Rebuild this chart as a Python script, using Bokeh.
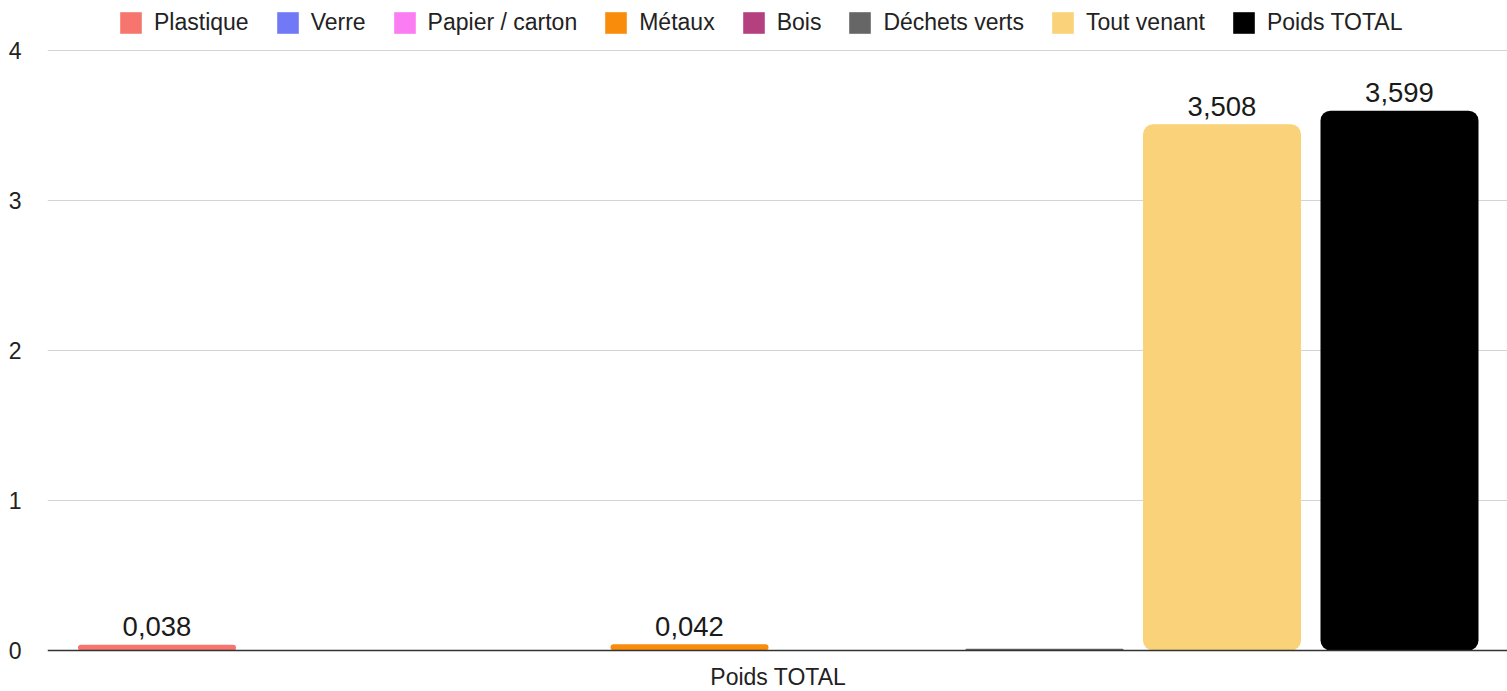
from bokeh.plotting import figure
from bokeh.models import ColumnDataSource, Range1d, FixedTicker, Legend, LegendItem, Span
from bokeh.core.properties import value
from bokeh.embed import file_html
from bokeh.resources import INLINE

# ---- data ----
category = "Poids TOTAL"
series = ["Plastique", "Verre", "Papier / carton", "Métaux", "Bois",
          "Déchets verts", "Tout venant", "Poids TOTAL"]
values = [0.038, 0.0, 0.0, 0.042, 0.0, 0.011, 3.508, 3.599]
show_label = [True, False, False, True, False, False, True, True]
colors = ["#f6766f", "#7179f6", "#fb7cf3", "#f98d0b", "#b5407f",
          "#666666", "#f9d27a", "#000000"]
y_ticks = [0, 1, 2, 3, 4]

FONT = "Liberation Sans"

xs = list(range(len(series)))
labels = [(f"{v:.3f}".replace(".", ",") if s else "") for v, s in zip(values, show_label)]
src = ColumnDataSource(dict(x=xs, top=values, color=colors, name=series, label=labels))

W, H = 1507, 691
left_b = 47
frame_w = W - left_b
slot = 177.5
x0 = -109.5 / slot
ppu = 150.0  # pixels per unit on y
zero_y = 650

p = figure(width=W, height=H, output_backend="svg", toolbar_location=None,
           x_range=Range1d(x0, x0 + frame_w / slot),
           y_range=Range1d(-(H - zero_y) / ppu, zero_y / ppu),
           min_border_left=left_b, min_border_right=0,
           min_border_top=0, min_border_bottom=0)
p.outline_line_color = None
p.background_fill_color = "white"
p.border_fill_color = "white"
p.xaxis.visible = False

r = p.vbar(x="x", top="top", width=158 / slot, bottom=0, color="color",
           source=src, border_radius=10, line_color=None)

p.text(x="x", y="top", text="label", source=src, y_offset=-18,
       text_align="center", text_baseline="alphabetic",
       text_font=value(FONT), text_font_size="27.5px", text_color="#1a1a1a")

# baseline (x axis line)
p.add_layout(Span(location=0, dimension="width", line_color="#333333", line_width=1.3))

# category label below the baseline
cx = (len(series) - 1) / 2
p.text(x=[cx], y=[0], text=[category], y_offset=26,
       text_align="center", text_baseline="middle",
       text_font=value(FONT), text_font_size="23px", text_color="#222222")

# legend
items = [LegendItem(label=s, renderers=[r], index=i) for i, s in enumerate(series)]
leg = Legend(items=items, orientation="horizontal",
             location=(70, 655),
             label_text_font=FONT, label_text_font_size="23px",
             label_text_color="#222222",
             glyph_width=27, glyph_height=27, label_standoff=10,
             spacing=25, padding=0, margin=0,
             border_line_color=None, background_fill_alpha=0,
             label_height=24)
p.add_layout(leg, "center")

# y axis
p.yaxis.ticker = FixedTicker(ticks=y_ticks)
p.yaxis.axis_line_color = None
p.yaxis.major_tick_line_color = None
p.yaxis.minor_tick_line_color = None
p.yaxis.major_tick_out = 0
p.yaxis.major_tick_in = 0
p.yaxis.major_label_standoff = 26
p.yaxis.major_label_text_font = FONT
p.yaxis.major_label_text_font_size = "23px"
p.yaxis.major_label_text_color = "#222222"

p.xgrid.grid_line_color = None
p.ygrid.ticker = FixedTicker(ticks=y_ticks[1:])
p.ygrid.grid_line_color = "#d4d4d4"
p.ygrid.grid_line_width = 1

open("out.html", "w").write(file_html(p, INLINE))
